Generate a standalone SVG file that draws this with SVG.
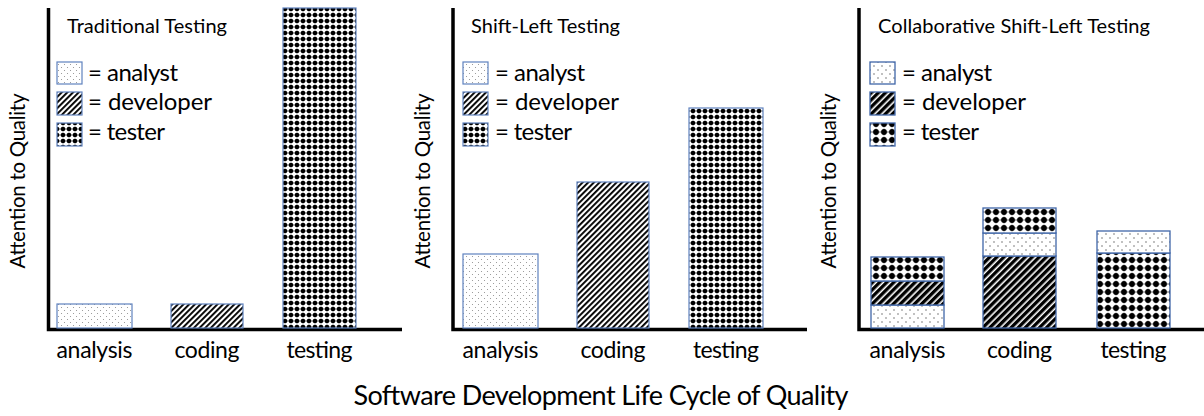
<svg xmlns="http://www.w3.org/2000/svg" width="1204" height="416" viewBox="0 0 1204 416">
  <defs>
    <!-- fill patterns: small scale (first two charts) -->
    <pattern id="pat-analyst" patternUnits="userSpaceOnUse" width="6" height="6">
      <rect width="6" height="6" fill="#ffffff"/>
      <circle cx="1.5" cy="1.5" r="0.55" fill="#8c8c8c"/>
      <circle cx="4.5" cy="4.5" r="0.55" fill="#8c8c8c"/>
    </pattern>
    <pattern id="pat-developer" patternUnits="userSpaceOnUse" width="4" height="4" patternTransform="rotate(45)">
      <rect width="4" height="4" fill="#ffffff"/>
      <rect width="1.9" height="4" fill="#000000"/>
    </pattern>
    <pattern id="pat-tester" patternUnits="userSpaceOnUse" width="6" height="6">
      <rect width="6" height="6" fill="#ffffff"/>
      <line x1="0" y1="3" x2="6" y2="3" stroke="#333333" stroke-width="0.7"/>
      <line x1="3" y1="0" x2="3" y2="6" stroke="#9a9a9a" stroke-width="0.5"/>
      <circle cx="3" cy="3" r="2.3" fill="#000000"/>
    </pattern>
    <!-- fill patterns: larger scale (collaborative chart) -->
    <pattern id="pat-analyst-lg" patternUnits="userSpaceOnUse" width="8" height="8">
      <rect width="8" height="8" fill="#ffffff"/>
      <circle cx="2" cy="2" r="0.7" fill="#555555"/>
      <circle cx="6" cy="6" r="0.7" fill="#555555"/>
    </pattern>
    <pattern id="pat-developer-lg" patternUnits="userSpaceOnUse" width="5" height="5" patternTransform="rotate(45)">
      <rect width="5" height="5" fill="#ffffff"/>
      <rect width="3.4" height="5" fill="#000000"/>
    </pattern>
    <pattern id="pat-tester-lg" patternUnits="userSpaceOnUse" width="8" height="8">
      <rect width="8" height="8" fill="#ffffff"/>
      <line x1="0" y1="4" x2="8" y2="4" stroke="#333333" stroke-width="0.8"/>
      <line x1="4" y1="0" x2="4" y2="8" stroke="#9a9a9a" stroke-width="0.6"/>
      <circle cx="4" cy="4" r="2.9" fill="#000000"/>
    </pattern>
  </defs>
  <style>
    text { font-family: Lato, "Open Sans", "Liberation Sans", sans-serif; fill: #000000; }
    .title { font-size: 20px; }
    .legend { font-size: 24px; }
    .cat { font-size: 23px; text-anchor: middle; }
    .ylab { font-size: 20.5px; text-anchor: middle; }
    .caption { font-size: 27px; text-anchor: middle; }
    .axis { stroke: #000000; stroke-width: 3.5; fill: none; }
    .bar { stroke: #5f82bf; stroke-width: 1.2; }
    .bar-lg { stroke: #3f66a8; stroke-width: 1.3; }
    .analyst { fill: url(#pat-analyst); }
    .developer { fill: url(#pat-developer); }
    .tester { fill: url(#pat-tester); }
    .analyst-lg { fill: url(#pat-analyst-lg); }
    .developer-lg { fill: url(#pat-developer-lg); }
    .tester-lg { fill: url(#pat-tester-lg); }
  </style>

  <rect width="1204" height="416" fill="#ffffff"/>

  <!-- axes of the three charts -->
  <g id="connectors">
    <polyline class="axis" points="48.5,8 48.5,329.5 402,329.5"/>
    <polyline class="axis" points="453,8 453,329.5 807,329.5"/>
    <polyline class="axis" points="859,8 859,329.5 1204,329.5"/>
  </g>

  <!-- chart 1: traditional testing -->
  <g id="chart-traditional">
    <text class="title" x="67" y="33" textLength="160">Traditional Testing</text>
    <g id="legend-traditional">
      <rect class="bar analyst" x="57" y="62" width="25" height="22"/>
      <rect class="bar developer" x="57" y="92" width="25" height="23"/>
      <rect class="bar tester" x="57" y="123" width="25" height="23"/>
      <text class="legend" x="88" y="81" textLength="90">= analyst</text>
      <text class="legend" x="88" y="110" textLength="124">= developer</text>
      <text class="legend" x="88" y="140" textLength="77">= tester</text>
    </g>
    <g id="bar-traditional-analysis">
      <rect class="bar analyst" x="57" y="304" width="75" height="24"/>
    </g>
    <g id="bar-traditional-coding">
      <rect class="bar developer" x="171" y="304" width="72" height="24"/>
    </g>
    <g id="bar-traditional-testing">
      <rect class="bar tester" x="283" y="8" width="73" height="320"/>
    </g>
    <text class="ylab" transform="translate(25,181) rotate(-90)" textLength="175">Attention to Quality</text>
    <text class="cat" x="94.5" y="358" textLength="76">analysis</text>
    <text class="cat" x="207" y="358" textLength="65">coding</text>
    <text class="cat" x="319.5" y="358" textLength="66">testing</text>
  </g>

  <!-- chart 2: shift-left testing -->
  <g id="chart-shift-left">
    <text class="title" x="471" y="33" textLength="149">Shift-Left Testing</text>
    <g id="legend-shift-left">
      <rect class="bar analyst" x="463" y="62" width="25" height="22"/>
      <rect class="bar developer" x="463" y="92" width="25" height="23"/>
      <rect class="bar tester" x="463" y="123" width="25" height="23"/>
      <text class="legend" x="495" y="81" textLength="90">= analyst</text>
      <text class="legend" x="495" y="110" textLength="124">= developer</text>
      <text class="legend" x="495" y="140" textLength="77">= tester</text>
    </g>
    <g id="bar-shift-left-analysis">
      <rect class="bar analyst" x="463" y="254" width="75" height="74"/>
    </g>
    <g id="bar-shift-left-coding">
      <rect class="bar developer" x="577" y="182" width="72" height="146"/>
    </g>
    <g id="bar-shift-left-testing">
      <rect class="bar tester" x="689" y="108" width="74" height="220"/>
    </g>
    <text class="ylab" transform="translate(430,181) rotate(-90)" textLength="175">Attention to Quality</text>
    <text class="cat" x="500.5" y="358" textLength="76">analysis</text>
    <text class="cat" x="613" y="358" textLength="65">coding</text>
    <text class="cat" x="726" y="358" textLength="66">testing</text>
  </g>

  <!-- chart 3: collaborative shift-left testing -->
  <g id="chart-collaborative">
    <text class="title" x="878" y="33" textLength="272">Collaborative Shift-Left Testing</text>
    <g id="legend-collaborative">
      <rect class="bar-lg analyst-lg" x="870" y="62" width="25" height="22"/>
      <rect class="bar-lg developer-lg" x="870" y="92" width="25" height="23"/>
      <rect class="bar-lg tester-lg" x="870" y="123" width="25" height="23"/>
      <text class="legend" x="902" y="81" textLength="90">= analyst</text>
      <text class="legend" x="902" y="110" textLength="124">= developer</text>
      <text class="legend" x="902" y="140" textLength="77">= tester</text>
    </g>
    <g id="bar-collaborative-analysis">
      <rect class="bar-lg analyst-lg" x="871" y="305" width="73" height="23"/>
      <rect class="bar-lg developer-lg" x="871" y="281" width="73" height="24"/>
      <rect class="bar-lg tester-lg" x="871" y="257" width="73" height="24"/>
    </g>
    <g id="bar-collaborative-coding">
      <rect class="bar-lg developer-lg" x="983" y="256" width="73" height="72"/>
      <rect class="bar-lg analyst-lg" x="983" y="233" width="73" height="23"/>
      <rect class="bar-lg tester-lg" x="983" y="208" width="73" height="25"/>
    </g>
    <g id="bar-collaborative-testing">
      <rect class="bar-lg tester-lg" x="1097" y="253" width="73" height="75"/>
      <rect class="bar-lg analyst-lg" x="1097" y="231" width="73" height="22"/>
    </g>
    <text class="ylab" transform="translate(836,181) rotate(-90)" textLength="175">Attention to Quality</text>
    <text class="cat" x="907.5" y="358" textLength="76">analysis</text>
    <text class="cat" x="1019.5" y="358" textLength="65">coding</text>
    <text class="cat" x="1133.5" y="358" textLength="66">testing</text>
  </g>

  <text id="caption" class="caption" x="601" y="405" textLength="495">Software Development Life Cycle of Quality</text>
</svg>
